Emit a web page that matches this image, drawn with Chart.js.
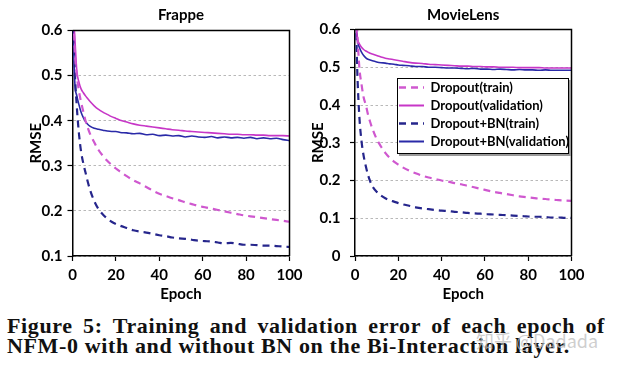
<!DOCTYPE html>
<html><head><meta charset="utf-8">
<script src="https://cdn.jsdelivr.net/npm/chart.js@4.4.1/dist/chart.umd.min.js"></script>
<style>
html,body{margin:0;padding:0;background:#fff;width:617px;height:369px;overflow:hidden;}
#wrapL{position:absolute;left:0;top:0;width:305px;height:305px;}
#wrapR{position:absolute;left:305px;top:0;width:312px;height:305px;}
.cap{position:absolute;left:7px;font-family:"Liberation Serif",serif;font-weight:bold;font-size:22px;line-height:20px;color:#111;white-space:nowrap;}
#cap1{top:316px;}
#cap2{top:335.5px;}
#wm{position:absolute;left:476px;top:329px;font-family:"Noto Sans CJK SC",sans-serif;font-size:18px;line-height:22px;color:rgba(190,190,190,0.75);white-space:nowrap;}
</style></head>
<body>
<div id="wrapL"><canvas id="cL" width="305" height="305"></canvas></div>
<div id="wrapR"><canvas id="cR" width="312" height="305"></canvas></div>
<div class="cap" id="cap1">Figure 5: Training and validation error of each epoch of</div>
<div class="cap" id="cap2">NFM-0 with and without BN on the Bi-Interaction layer.</div>
<div id="wm">知乎 @Dadada</div>
<script>
// ---------- data ----------
const epochs = [0,1,2,3,4,5,6,7,8,10,12,14,16,18,20,22,25,28,31,34,37,40,43,46,49,52,55,58,61,64,67,70,73,76,79,82,85,88,91,94,97,100];

const frappeDropoutTrain = [0.70,0.56,0.50,0.465,0.44,0.42,0.40,0.385,0.372,0.352,0.335,0.322,0.311,0.302,0.294,0.287,0.277,0.268,0.261,0.253,0.245,0.238,0.233,0.228,0.224,0.219,0.215,0.211,0.208,0.205,0.202,0.199,0.196,0.193,0.19,0.188,0.186,0.184,0.182,0.18,0.178,0.176];
const frappeDropoutVal = [0.66,0.59,0.51,0.485,0.47,0.462,0.455,0.449,0.443,0.433,0.425,0.419,0.414,0.409,0.405,0.401,0.397,0.393,0.39,0.388,0.386,0.384,0.382,0.38,0.379,0.377,0.376,0.375,0.374,0.373,0.372,0.371,0.37,0.37,0.369,0.369,0.368,0.368,0.367,0.367,0.367,0.366];
const frappeBNTrain = [0.72,0.52,0.43,0.37,0.33,0.305,0.285,0.265,0.248,0.222,0.204,0.192,0.183,0.176,0.171,0.167,0.162,0.157,0.154,0.152,0.149,0.146,0.144,0.141,0.139,0.138,0.136,0.134,0.133,0.132,0.13,0.128,0.129,0.127,0.125,0.125,0.124,0.123,0.123,0.122,0.121,0.12];
const frappeBNVal = [0.68,0.49,0.455,0.435,0.418,0.407,0.398,0.392,0.388,0.383,0.381,0.379,0.377,0.376,0.376,0.374,0.373,0.371,0.372,0.369,0.37,0.367,0.368,0.366,0.367,0.364,0.366,0.364,0.363,0.365,0.362,0.364,0.362,0.363,0.361,0.363,0.36,0.362,0.36,0.361,0.358,0.356];

const movieDropoutTrain = [0.74,0.6,0.5,0.455,0.42,0.4,0.375,0.355,0.338,0.31,0.29,0.273,0.26,0.25,0.242,0.235,0.226,0.219,0.213,0.208,0.204,0.2,0.197,0.193,0.19,0.186,0.182,0.178,0.174,0.17,0.167,0.164,0.161,0.158,0.156,0.154,0.152,0.151,0.149,0.148,0.147,0.146];
const movieDropoutVal = [0.66,0.58,0.562,0.553,0.547,0.543,0.54,0.537,0.535,0.531,0.527,0.524,0.522,0.52,0.518,0.516,0.513,0.511,0.51,0.508,0.507,0.506,0.505,0.504,0.503,0.503,0.502,0.502,0.501,0.501,0.5,0.5,0.5,0.499,0.499,0.499,0.499,0.498,0.498,0.498,0.498,0.498];
const movieBNTrain = [0.75,0.5,0.37,0.305,0.265,0.238,0.215,0.198,0.185,0.17,0.16,0.153,0.148,0.144,0.14,0.137,0.133,0.129,0.126,0.124,0.122,0.12,0.119,0.117,0.116,0.114,0.113,0.112,0.111,0.11,0.109,0.108,0.107,0.106,0.105,0.104,0.104,0.103,0.102,0.102,0.101,0.101];
const movieBNVal = [0.66,0.575,0.553,0.54,0.531,0.525,0.521,0.519,0.517,0.514,0.512,0.511,0.509,0.508,0.506,0.505,0.504,0.502,0.502,0.5,0.5,0.499,0.498,0.498,0.497,0.496,0.497,0.495,0.495,0.494,0.495,0.494,0.493,0.494,0.493,0.493,0.492,0.493,0.492,0.492,0.492,0.492];

const seriesLabels = ['Dropout(train)','Dropout(validation)','Dropout+BN(train)','Dropout+BN(validation)'];
const frappeYTicks = ['0.1','0.2','0.3','0.4','0.5','0.6'];
const movieYTicks = ['0','0.1','0.2','0.3','0.4','0.5','0.6'];
const xTicks = ['0','20','40','60','80','100'];

// ---------- styling ----------
const FONT = 'Lato, "Open Sans", sans-serif';
const boldFont = (s) => ({family: FONT, weight: 'bold', size: s});
const lineStyles = [
  {borderColor: '#CF58CF', borderWidth: 2.2, borderDash: [7,5]},
  {borderColor: '#C736C7', borderWidth: 1.6, borderDash: []},
  {borderColor: '#26268C', borderWidth: 2.2, borderDash: [7,5]},
  {borderColor: '#2A2AA8', borderWidth: 1.6, borderDash: []}
];
function makeDatasets(arrs) {
  return arrs.map((a, i) => ({
    label: seriesLabels[i],
    data: epochs.map((e, j) => ({x: e, y: a[j]})),
    borderColor: lineStyles[i].borderColor,
    backgroundColor: lineStyles[i].borderColor,
    borderWidth: lineStyles[i].borderWidth,
    borderDash: lineStyles[i].borderDash,
    pointRadius: 0,
    fill: false,
    cubicInterpolationMode: 'monotone'
  }));
}

const framePlugin = {
  id: 'frame',
  afterDatasetsDraw(chart) {
    const {ctx, chartArea: a} = chart;
    ctx.save();
    ctx.strokeStyle = '#000';
    ctx.lineWidth = 1.5;
    ctx.beginPath();
    ctx.moveTo(a.left, a.top);
    ctx.lineTo(a.right, a.top);
    ctx.lineTo(a.right, a.bottom);
    ctx.stroke();
    ctx.restore();
  }
};

const legendBoxPlugin = {
  id: 'legendBox',
  afterLayout(chart, args, opts) {
    const l = chart.legend;
    if (!l || !opts.place) return;
    const w = l.width, h = l.height;
    l.left = opts.place.x; l.top = opts.place.y;
    l.right = l.left + w; l.bottom = l.top + h;
  },
  afterDraw(chart, args, opts) {
    if (!opts.box) return;
    const {ctx} = chart;
    const b = opts.box;
    ctx.save();
    ctx.fillStyle = '#9a9a9a';
    ctx.fillRect(b.x + 2, b.y + 2, b.w, b.h);
    ctx.fillStyle = '#fff';
    ctx.fillRect(b.x, b.y, b.w, b.h);
    ctx.strokeStyle = '#000';
    ctx.lineWidth = 1;
    ctx.strokeRect(b.x + 0.5, b.y + 0.5, b.w - 1, b.h - 1);
    ctx.restore();
    chart.legend.draw(chart.chartArea);
  }
};

function legendLabels(chart) {
  return chart.data.datasets.map((ds, i) => ({
    text: ds.label,
    fillStyle: ds.borderColor,
    strokeStyle: ds.borderColor,
    lineWidth: ds.borderWidth + 0.3,
    lineDash: ds.borderDash,
    lineCap: 'butt',
    pointStyle: 'line',
    fontColor: '#000',
    hidden: false,
    datasetIndex: i
  }));
}

function makeChart(id, cfg) {
  return new Chart(document.getElementById(id), {
    type: 'line',
    data: {datasets: makeDatasets(cfg.series)},
    plugins: [framePlugin, legendBoxPlugin],
    options: {
      responsive: false,
      animation: false,
      events: [],
      layout: {padding: {left: 0, right: cfg.padRight, top: 0, bottom: 0}},
      scales: {
        x: {
          type: 'linear', min: 0, max: 100,
          ticks: {stepSize: 20, padding: 5, color: '#000', font: boldFont(15), maxRotation: 0, autoSkip: false,
                  callback: (v, i) => xTicks[i]},
          grid: {drawOnChartArea: false, drawTicks: true, tickColor: '#000', tickLength: 5, tickWidth: 1.2},
          border: {display: true, color: '#000', width: 1.5},
          title: {display: true, text: 'Epoch', color: '#000', font: boldFont(15), padding: {top: 0, bottom: 1.5}},
          afterFit: (s) => { s.height = 49; s.paddingLeft = 0; s.paddingRight = 0; }
        },
        y: {
          type: 'linear', min: cfg.yMin, max: 0.6,
          ticks: {stepSize: 0.1, padding: cfg.tickPad, color: '#000', font: boldFont(15),
                  callback: (v, i) => cfg.yTicks[i]},
          grid: {color: '#b8b8b8', lineWidth: 1, drawTicks: true, tickColor: '#000', tickLength: 5, tickWidth: 1.2, tickBorderDash: []},
          border: {display: true, color: '#000', width: 1.5, dash: [2.5, 2.5]},
          title: {display: true, text: 'RMSE', color: '#000', font: boldFont(15), padding: {top: cfg.titlePad, bottom: 0}},
          afterFit: (s) => { s.width = cfg.yWidth; s.paddingTop = 0; s.paddingBottom = 0; }
        }
      },
      plugins: {
        title: {display: true, text: cfg.title, color: '#000', font: boldFont(15), fullSize: false,
                padding: {top: 6, bottom: cfg.titleBottom}},
        legend: cfg.legend ? {
          display: true, position: 'chartArea', align: 'start',
          labels: {usePointStyle: true, pointStyle: 'line', pointStyleWidth: 25, padding: 5, color: '#000',
                   font: boldFont(13), generateLabels: legendLabels}
        } : {display: false},
        legendBox: cfg.legend ? {place: {x: 89, y: 76}, box: {x: 92, y: 78, w: 172, h: 76}} : {},
        tooltip: {enabled: false}
      }
    }
  });
}

makeChart('cL', {
  title: 'Frappe', series: [frappeDropoutTrain, frappeDropoutVal, frappeBNTrain, frappeBNVal],
  yMin: 0.1, yTicks: frappeYTicks, yWidth: 72.5, tickPad: 5, titlePad: 27, padRight: 15.5, titleBottom: 6.5, legend: false
});
makeChart('cR', {
  title: 'MovieLens', series: [movieDropoutTrain, movieDropoutVal, movieBNTrain, movieBNVal],
  yMin: 0, yTicks: movieYTicks, yWidth: 50, tickPad: 9.5, titlePad: 4.5, padRight: 45.5, titleBottom: 5.5, legend: true
});

// stretch caption lines to the widths of the original typesetting
(function () {
  const c2 = document.getElementById('cap2');
  const n2 = c2.textContent.length;
  const w2 = c2.getBoundingClientRect().width;
  const ls = (563 - w2) / n2;
  const c1 = document.getElementById('cap1');
  c1.style.letterSpacing = ls + 'px';
  c2.style.letterSpacing = ls + 'px';
  const gaps = c1.textContent.split(' ').length - 1;
  const w1 = c1.getBoundingClientRect().width;
  c1.style.wordSpacing = ((598 - w1) / gaps) + 'px';
})();
</script>
</body></html>
